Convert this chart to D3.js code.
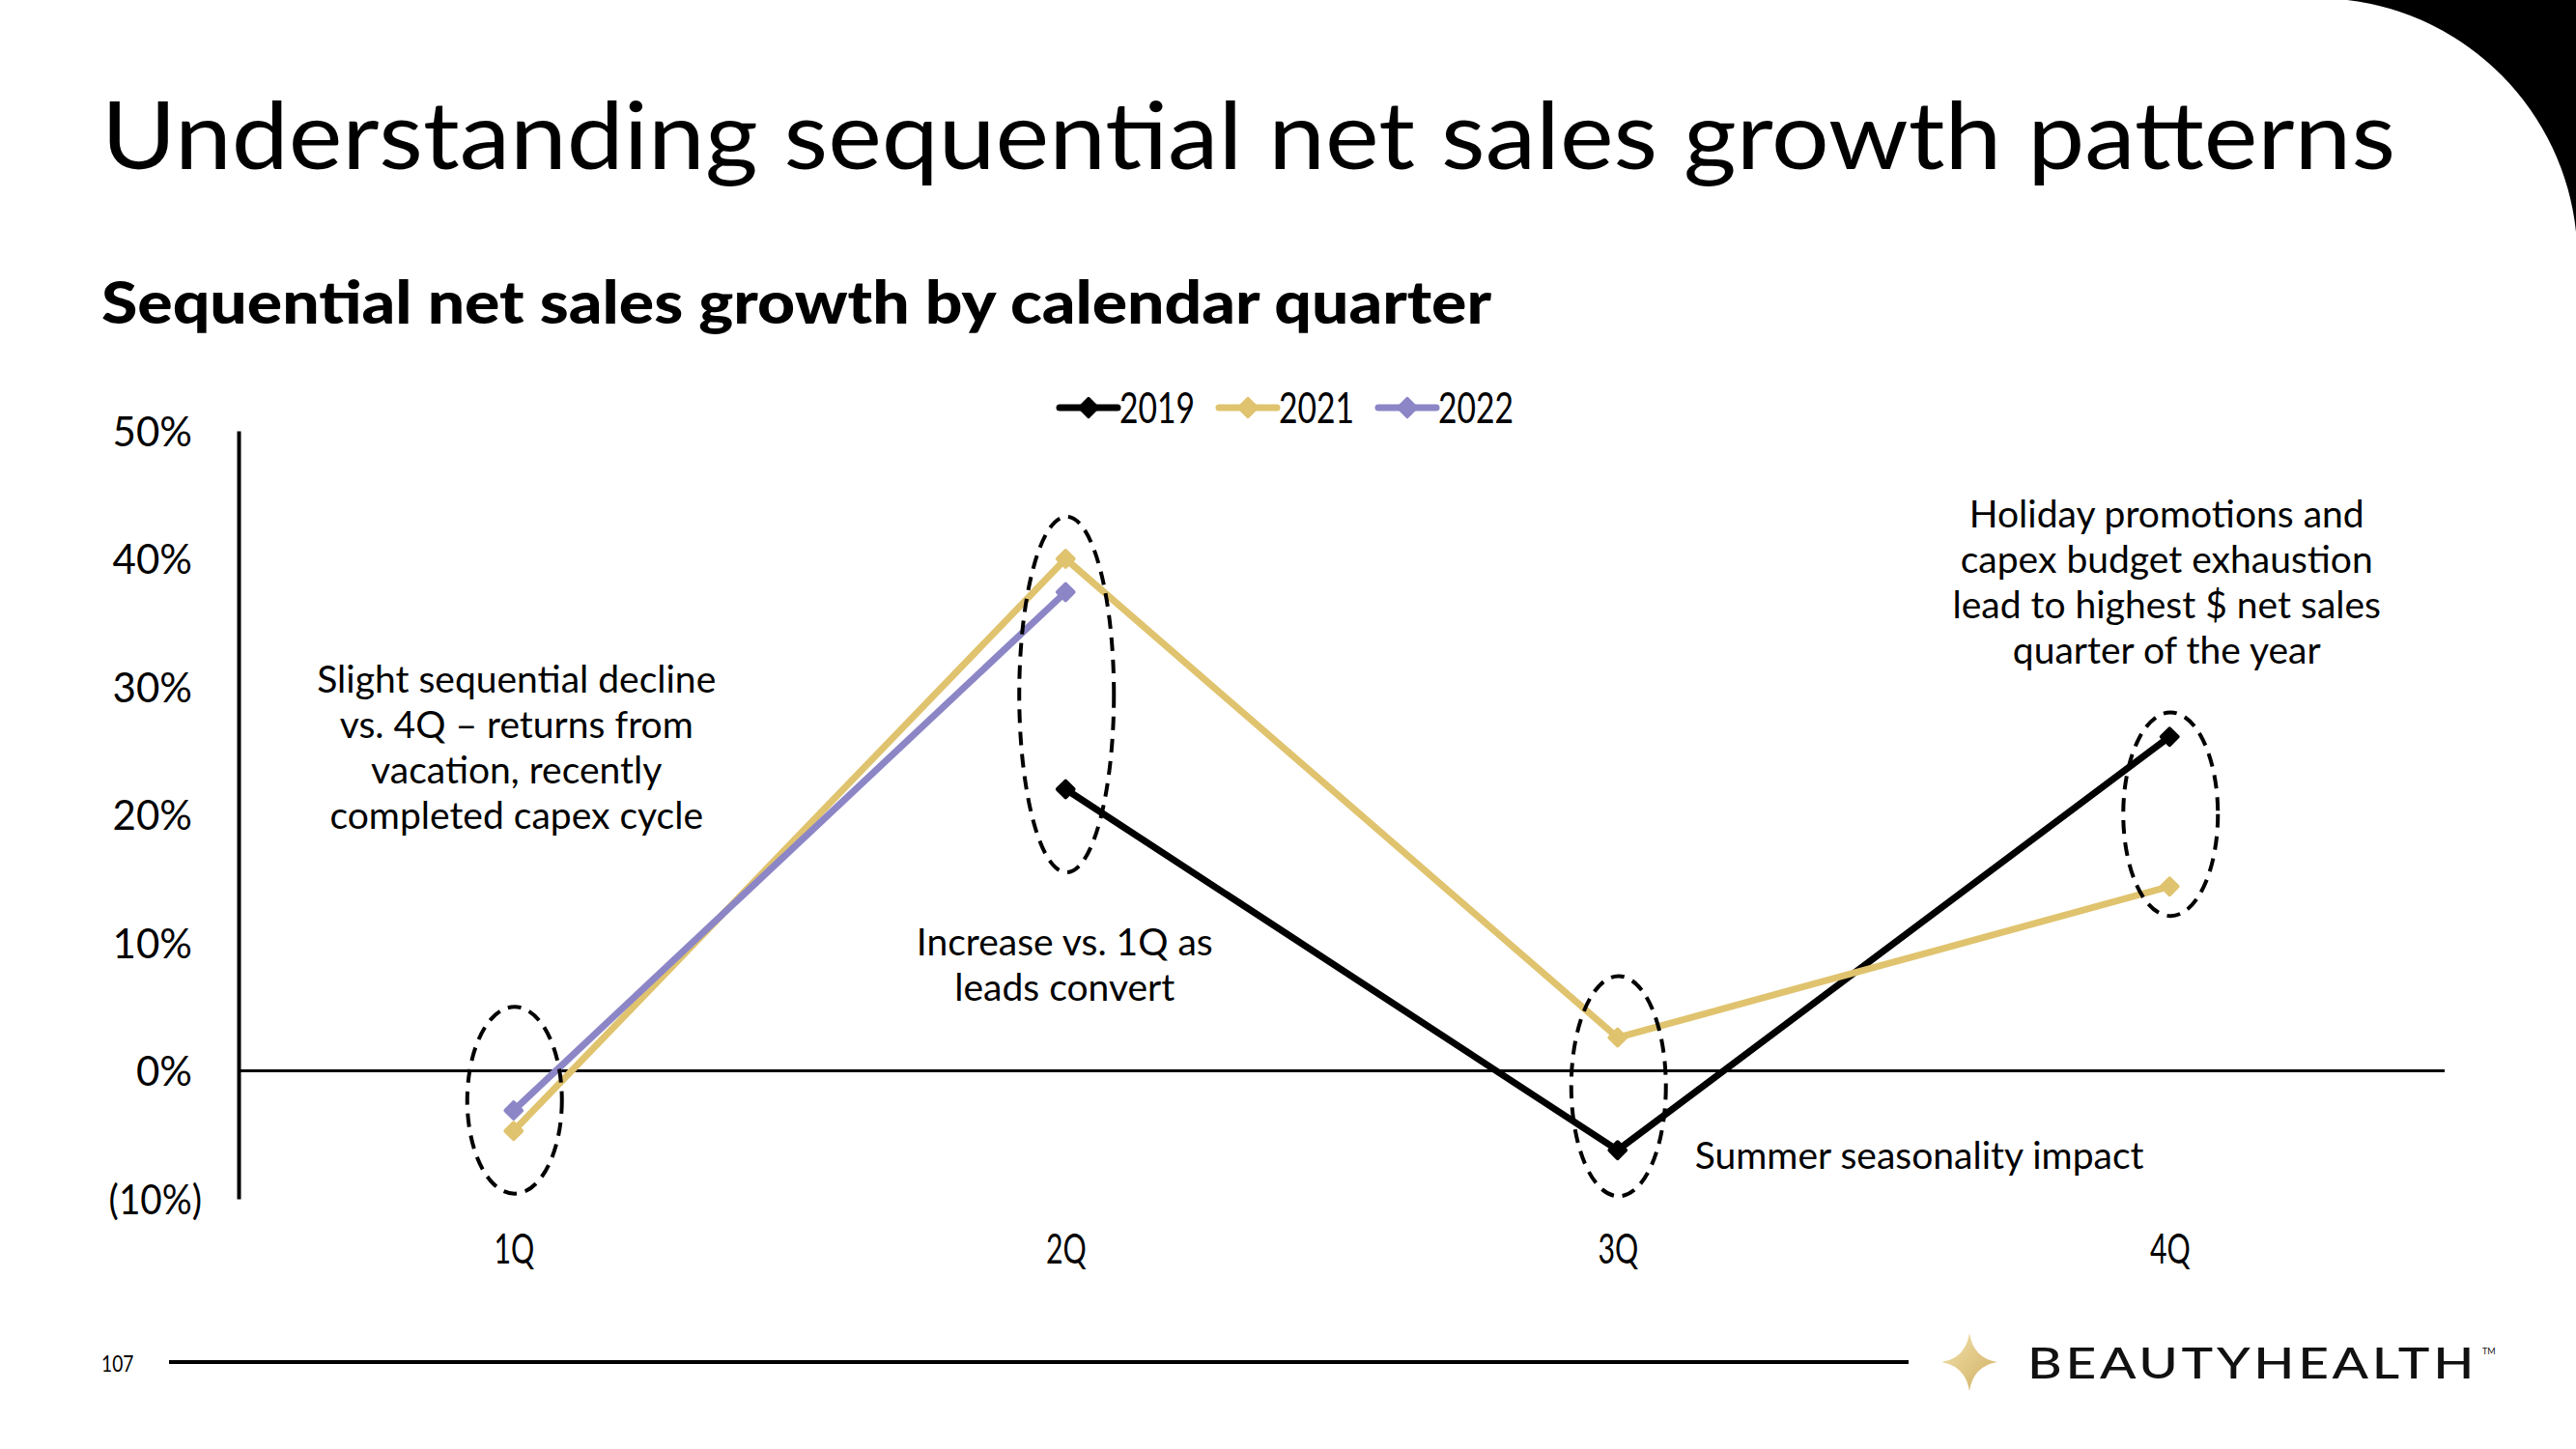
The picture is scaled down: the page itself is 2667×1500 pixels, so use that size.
<!DOCTYPE html>
<html><head><meta charset="utf-8">
<script src="https://cdn.jsdelivr.net/npm/d3@7"></script>
<style>html,body{margin:0;padding:0;background:#fff;} svg{display:block}</style>
</head><body><svg id="c" width="2667" height="1500"></svg>
<script>
// ---------------- data ----------------
const quarters = ["1Q", "2Q", "3Q", "4Q"];
const years = ["2019", "2021", "2022"];
const values2019 = [null, 22.0, -6.2, 26.1];
const values2021 = [-4.7, 40.0, 2.6, 14.4];
const values2022 = [-3.1, 37.4, null, null];
const yTickValues = [-10, 0, 10, 20, 30, 40, 50];
const seriesColors = ["#000000", "#E0C36E", "#8C86C6"];
const ellipseTopValues = [5.0, 43.3, 7.4, 28.0];
const ellipseBottomValues = [-9.6, 15.5, -9.8, 12.1];
const note1Lines = ["Slight sequential decline", "vs. 4Q \u2013 returns from", "vacation, recently", "completed capex cycle"];
const note2Lines = ["Increase vs. 1Q as", "leads convert"];
const note3Lines = ["Summer seasonality impact"];
const note4Lines = ["Holiday promotions and", "capex budget exhaustion", "lead to highest $ net sales", "quarter of the year"];
const titleText = "Understanding sequential net sales growth patterns";
const subtitleText = "Sequential net sales growth by calendar quarter";
const pageNumber = "107";

const series = [values2019, values2021, values2022].map((vals, i) => ({
  name: years[i], color: seriesColors[i],
  points: quarters.map((q, j) => ({q, v: vals[j]})).filter(d => d.v !== null)
}));

// ---------------- layout ----------------
const svg = d3.select("#c");
const FONT = "Lato, 'Open Sans', sans-serif";
const x = d3.scalePoint().domain(quarters).range([246, 2532]).padding(0.5);
const y = d3.scaleLinear().domain([-10, 50]).range([1241, 446]);

function fitTo(sel, target, adjust) {
  sel.attr("textLength", target).attr("lengthAdjust", adjust || "spacingAndGlyphs");
}
function condense(sel, factor) {
  sel.each(function () {
    const w = this.getComputedTextLength();
    d3.select(this).attr("textLength", w * factor).attr("lengthAdjust", "spacingAndGlyphs");
  });
}
function measure(text, size, weight) {
  const t = svg.append("text").attr("font-family", FONT).attr("font-size", size)
    .attr("font-weight", weight || 400).text(text);
  const w = t.node().getComputedTextLength();
  t.remove();
  return w;
}

// top-right corner shape
svg.append("path").attr("d", "M2430,0 A270,270 0 0,1 2667,240 L2667,0 Z").attr("fill", "#000");

// title + subtitle
svg.append("text").attr("x", 105).attr("y", 175).attr("font-family", FONT)
  .attr("font-size", 97).attr("font-weight", 400).attr("fill", "#000").text(titleText)
  .call(fitTo, 2375);
svg.append("text").attr("x", 105).attr("y", 335).attr("font-family", FONT)
  .attr("font-size", 60).attr("font-weight", 900).attr("fill", "#000").text(subtitleText)
  .call(fitTo, 1439);

// ---------------- axes ----------------
const yAxis = svg.append("g").attr("transform", "translate(247,0)")
  .call(d3.axisLeft(y).tickValues(yTickValues).tickSize(0).tickSizeOuter(0).tickPadding(48)
    .tickFormat(d => d < 0 ? "(" + Math.abs(d) + "%)" : d + "%"));
yAxis.select(".domain").attr("stroke", "#000").attr("stroke-width", 4);
yAxis.selectAll(".tick text").attr("font-family", FONT).attr("font-size", 42).attr("fill", "#000")
  .attr("x", d => d < 0 ? -38 : -48).attr("dy", "0.36em");
yAxis.selectAll(".tick text").filter(d => d < 0).call(condense, 0.92);

const xAxis = svg.append("g").attr("transform", "translate(0,1241)")
  .call(d3.axisBottom(x).tickSize(0).tickPadding(37));
xAxis.select(".domain").remove();
xAxis.selectAll(".tick text").attr("font-family", FONT).attr("font-size", 42).attr("fill", "#000")
  .call(condense, 0.72);

// zero line
svg.append("line").attr("x1", 247).attr("x2", 2531).attr("y1", y(0)).attr("y2", y(0))
  .attr("stroke", "#000").attr("stroke-width", 3);

// ---------------- series ----------------
const line = d3.line().x(d => x(d.q)).y(d => y(d.v));
const diamond = d3.symbol().type(d3.symbolSquare).size(140);
series.forEach(s => {
  svg.append("path").datum(s.points).attr("d", line).attr("fill", "none")
    .attr("stroke", s.color).attr("stroke-width", 7).attr("stroke-linejoin", "round");
});
series.forEach(s => {
  svg.append("g").selectAll("path").data(s.points).join("path")
    .attr("d", diamond)
    .attr("transform", d => `translate(${x(d.q)},${y(d.v)}) rotate(45)`)
    .attr("fill", s.color).attr("stroke", s.color).attr("stroke-width", 4).attr("stroke-linejoin", "round");
});

// ---------------- dashed ellipses ----------------
svg.append("g").selectAll("ellipse").data(quarters).join("ellipse")
  .attr("cx", q => x(q) + 1)
  .attr("cy", (q, i) => (y(ellipseTopValues[i]) + y(ellipseBottomValues[i])) / 2)
  .attr("rx", 49)
  .attr("ry", (q, i) => (y(ellipseBottomValues[i]) - y(ellipseTopValues[i])) / 2)
  .attr("fill", "none").attr("stroke", "#000").attr("stroke-width", 4)
  .attr("stroke-dasharray", "14,9");

// ---------------- legend ----------------
const legendSize = 44;
const legendFactor = 78 / measure("2019", legendSize, 400);
const legend = svg.append("g");
let lx = 1097;
series.forEach(s => {
  const g = legend.append("g").attr("transform", `translate(${lx},422)`);
  g.append("line").attr("x1", 0).attr("x2", 60).attr("stroke", s.color)
    .attr("stroke-width", 7).attr("stroke-linecap", "round");
  g.append("path").attr("d", d3.symbol().type(d3.symbolSquare).size(190)())
    .attr("transform", "translate(30,0) rotate(45)").attr("fill", s.color)
    .attr("stroke", s.color).attr("stroke-width", 3).attr("stroke-linejoin", "round");
  const w = measure(s.name, legendSize, 400) * legendFactor;
  g.append("text").attr("x", 62).attr("y", 16).attr("font-family", FONT)
    .attr("font-size", legendSize).attr("fill", "#000").text(s.name)
    .attr("textLength", w).attr("lengthAdjust", "spacingAndGlyphs");
  lx += 62 + w + 25;
});

// ---------------- annotations ----------------
const noteSize = 38;
const noteFactor = 413 / measure(note1Lines[0], noteSize, 400);
function note(lines, ax, ay, anchor) {
  const g = svg.append("g");
  g.selectAll("text").data(lines).join("text")
    .attr("x", ax).attr("y", (d, i) => ay + 13 + i * 47)
    .attr("text-anchor", anchor).attr("font-family", FONT).attr("font-size", noteSize)
    .attr("fill", "#000").text(d => d)
    .call(condense, noteFactor);
}
note(note1Lines, x("1Q") + 3, y(30.5), "middle");
note(note2Lines, x("2Q") - 1, y(10.0), "middle");
note(note3Lines, x("3Q") + 80, y(-6.7), "start");
note(note4Lines, x("4Q") - 3, y(43.4), "middle");

// ---------------- footer ----------------
svg.append("text").attr("x", 105).attr("y", 1420).attr("font-family", FONT)
  .attr("font-size", 24).attr("fill", "#000").text(pageNumber).call(condense, 0.8);
svg.append("line").attr("x1", 175).attr("x2", 1976).attr("y1", 1410).attr("y2", 1410)
  .attr("stroke", "#000").attr("stroke-width", 4);

const defs = svg.append("defs");
const grad = defs.append("linearGradient").attr("id", "gold").attr("x1", "0").attr("y1", "0").attr("x2", "1").attr("y2", "1");
grad.append("stop").attr("offset", "0").attr("stop-color", "#F3E2AC");
grad.append("stop").attr("offset", "1").attr("stop-color", "#CFAE62");
svg.append("path").attr("d", "M0,-30 Q4,-4 29,0 Q4,4 0,30 Q-4,4 -29,0 Q-4,-4 0,-30 Z")
  .attr("transform", "translate(2039,1410)").attr("fill", "url(#gold)");
svg.append("text").attr("x", 2099).attr("y", 1427).attr("font-family", FONT)
  .attr("font-size", 45).attr("font-weight", 500).attr("letter-spacing", 3).attr("fill", "#111")
  .text("BEAUTYHEALTH")
  .call(fitTo, 466, "spacingAndGlyphs");
svg.append("text").attr("x", 2570).attr("y", 1402).attr("font-family", FONT)
  .attr("font-size", 9).attr("fill", "#111").text("TM");
</script>
</body></html>
